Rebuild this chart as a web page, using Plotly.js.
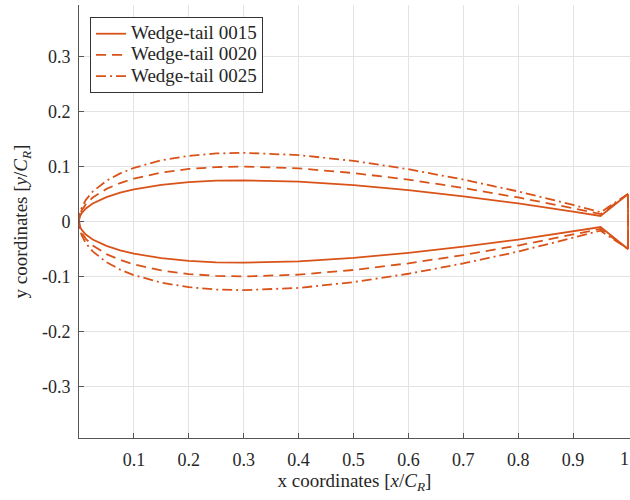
<!DOCTYPE html>
<html>
<head>
<meta charset="utf-8">
<script src="https://cdn.plot.ly/plotly-3.0.1.min.js"></script>
<style>html,body{margin:0;padding:0;background:#fff}#chart{width:630px;height:500px}</style>
</head>
<body>
<div id="chart"></div>
<script>
// Chordwise stations (x/C_R), including wedge end at x = 1
const xStations = [0, 0.0005, 0.001, 0.002, 0.005, 0.0125, 0.025, 0.05, 0.075, 0.1, 0.15, 0.2, 0.25, 0.3, 0.4, 0.5, 0.6, 0.7, 0.8, 0.9, 0.95, 1];

// Upper / lower surfaces (y/C_R)
const upper0015 = [0, 0.005, 0.007, 0.0098, 0.0153, 0.0237, 0.0327, 0.0444, 0.0525, 0.0585, 0.0668, 0.0717, 0.0743, 0.0750, 0.0725, 0.0662, 0.0570, 0.0458, 0.0328, 0.0181, 0.0101, 0.05];
const lower0015 = [0, -0.005, -0.007, -0.0098, -0.0153, -0.0237, -0.0327, -0.0444, -0.0525, -0.0585, -0.0668, -0.0717, -0.0743, -0.0750, -0.0725, -0.0662, -0.0570, -0.0458, -0.0328, -0.0181, -0.0101, -0.05];
const upper0020 = [0, 0.0066, 0.0093, 0.0130, 0.0204, 0.0316, 0.0436, 0.0593, 0.0700, 0.0781, 0.0891, 0.0956, 0.0990, 0.1000, 0.0967, 0.0882, 0.0761, 0.0611, 0.0437, 0.0241, 0.0135, 0.05];
const lower0020 = [0, -0.0066, -0.0093, -0.0130, -0.0204, -0.0316, -0.0436, -0.0593, -0.0700, -0.0781, -0.0891, -0.0956, -0.0990, -0.1000, -0.0967, -0.0882, -0.0761, -0.0611, -0.0437, -0.0241, -0.0135, -0.05];
const upper0025 = [0, 0.0082, 0.0116, 0.0163, 0.0255, 0.0395, 0.0545, 0.0741, 0.0875, 0.0976, 0.1114, 0.1195, 0.1238, 0.1250, 0.1209, 0.1103, 0.0951, 0.0763, 0.0547, 0.0302, 0.0168, 0.05];
const lower0025 = [0, -0.0082, -0.0116, -0.0163, -0.0255, -0.0395, -0.0545, -0.0741, -0.0875, -0.0976, -0.1114, -0.1195, -0.1238, -0.1250, -0.1209, -0.1103, -0.0951, -0.0763, -0.0547, -0.0302, -0.0168, -0.05];

const seriesNames = ["Wedge-tail 0015", "Wedge-tail 0020", "Wedge-tail 0025"];
const xTicks = [0.1, 0.2, 0.3, 0.4, 0.5, 0.6, 0.7, 0.8, 0.9, 1];
const xTickText = ["0.1", "0.2", "0.3", "0.4", "0.5", "0.6", "0.7", "0.8", "0.9", "1"];
const yTicks = [-0.3, -0.2, -0.1, 0, 0.1, 0.2, 0.3];
const yTickText = ["-0.3", "-0.2", "-0.1", "0", "0.1", "0.2", "0.3"];

function closedPath(up, lo) {
  const xr = xStations.slice().reverse();
  const yr = up.slice().reverse();
  const x = xr.concat(xStations.slice(1)).concat([xStations[xStations.length - 1]]);
  const y = yr.concat(lo.slice(1)).concat([up[up.length - 1]]);
  return {x, y};
}

const color = "#D95319";
const dashes = ["solid", "10px,6px", "10px,4px,2px,4px"];
const surfaces = [[upper0015, lower0015], [upper0020, lower0020], [upper0025, lower0025]];
const serif = "Liberation Serif";
const txt = "#262626";

const traces = surfaces.map((s, i) => {
  const p = closedPath(s[0], s[1]);
  return {x: p.x, y: p.y, type: "scatter", mode: "lines",
    name: '<span style="font-size:19px">' + seriesNames[i] + '</span>',
    line: {color: color, width: 1.8, dash: dashes[i]}};
});

// last x tick label sits on the page edge; draw it as an annotation so it is not dropped
const lastIdx = xTicks.length - 1;
const annotations = [{x: xTicks[lastIdx], y: 0, xref: "x", yref: "paper", yanchor: "top", xanchor: "right",
  xshift: 3, yshift: -9, text: xTickText[lastIdx], showarrow: false, font: {family: serif, size: 18, color: txt}}];

const layout = {
  width: 630, height: 500,
  margin: {l: 79, r: 0, t: 5, b: 62},
  paper_bgcolor: "#fff", plot_bgcolor: "#fff",
  font: {family: serif, color: txt, size: 18},
  showlegend: true,
  annotations: annotations,
  legend: {x: 0.02, y: 0.972, xanchor: "left", yanchor: "top",
    bgcolor: "#fff", bordercolor: "#333", borderwidth: 1,
    font: {family: serif, size: 14, color: txt}, tracegroupgap: 0},
  xaxis: {range: [0, 1.0036], tickvals: xTicks.slice(0, lastIdx), ticktext: xTickText.slice(0, lastIdx),
    showgrid: true, gridcolor: "#e3e3e3", gridwidth: 1, zeroline: false,
    showline: true, linecolor: "#555", linewidth: 1,
    ticks: "inside", ticklen: 5, tickcolor: "#555", ticklabelstandoff: 5,
    tickfont: {family: serif, size: 18, color: txt},
    title: {text: "x coordinates [<i>x</i>/<i>C</i><sub><i>R</i></sub>]", font: {family: serif, size: 19, color: txt}, standoff: 5}},
  yaxis: {range: [-0.394, 0.394], tickvals: yTicks, ticktext: yTickText,
    showgrid: true, gridcolor: "#e3e3e3", gridwidth: 1, zeroline: false,
    showline: true, linecolor: "#555", linewidth: 1,
    ticks: "inside", ticklen: 5, tickcolor: "#555", ticklabelstandoff: 4,
    tickfont: {family: serif, size: 18, color: txt},
    title: {text: "y coordinates [<i>y</i>/<i>C</i><sub><i>R</i></sub>]", font: {family: serif, size: 19, color: txt}, standoff: 9}}
};

Plotly.newPlot("chart", traces, layout, {staticPlot: true, displayModeBar: false});
</script>
</body>
</html>
